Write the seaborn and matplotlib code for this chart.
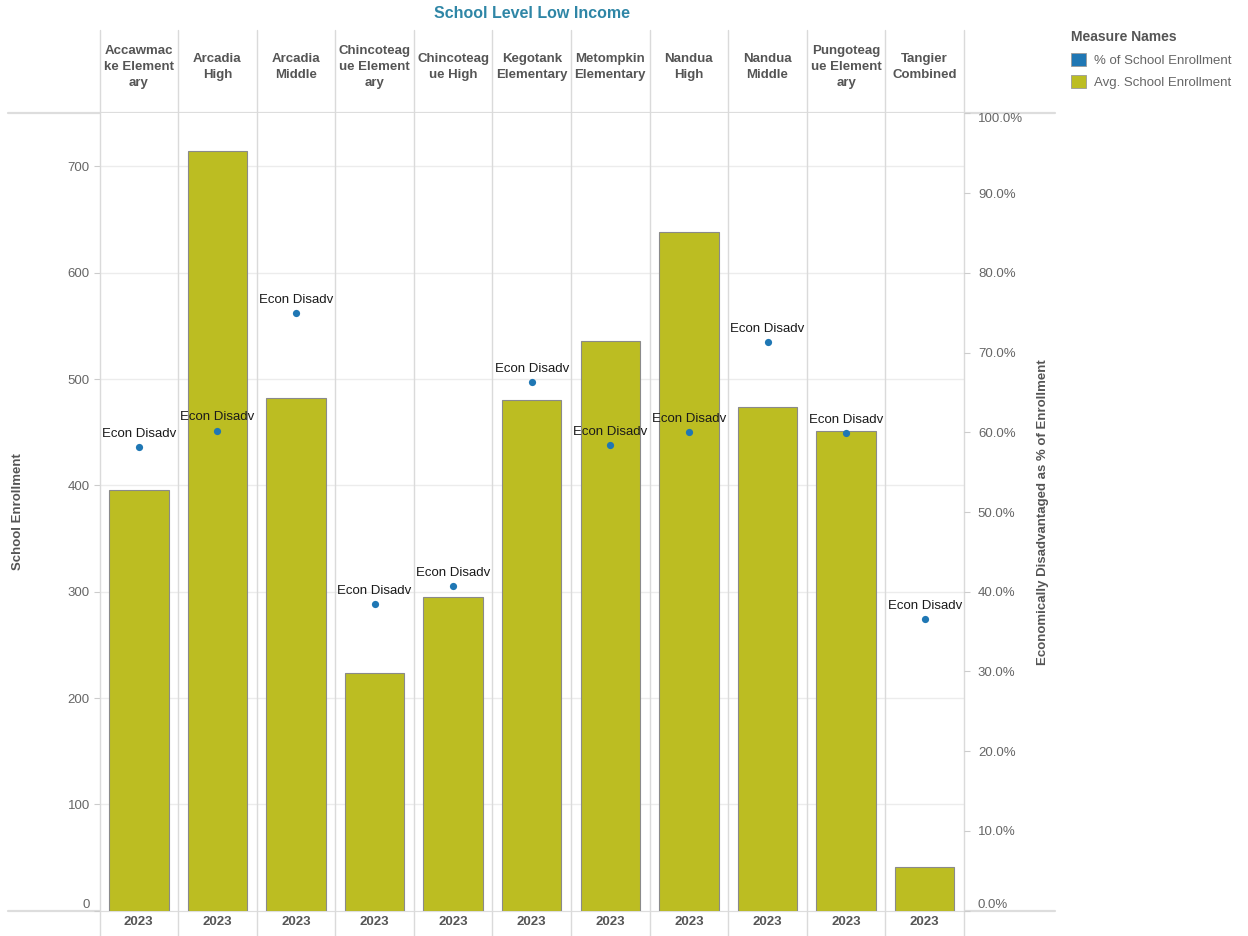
import numpy as np
import pandas as pd
import matplotlib
matplotlib.use("Agg")
import matplotlib.pyplot as plt
from matplotlib.lines import Line2D
from matplotlib.patches import Patch
from matplotlib.ticker import FuncFormatter
import seaborn as sns

# ---------------- data ----------------
schools = ["Accawmack Elementary", "Arcadia High", "Arcadia Middle",
           "Chincoteague Elementary", "Chincoteague High", "Kegotank Elementary",
           "Metompkin Elementary", "Nandua High", "Nandua Middle",
           "Pungoteague Elementary", "Tangier Combined"]
header_labels = ["Accawmac\nke Element\nary", "Arcadia\nHigh", "Arcadia\nMiddle",
                 "Chincoteag\nue Element\nary", "Chincoteag\nue High",
                 "Kegotank\nElementary", "Metompkin\nElementary", "Nandua\nHigh",
                 "Nandua\nMiddle", "Pungoteag\nue Element\nary", "Tangier\nCombined"]
year_labels = ["2023"] * 11
avg_enrollment = [396, 715, 482, 224, 295, 480, 536, 638, 474, 451, 41]
pct_enrollment = [0.581, 0.602, 0.749, 0.384, 0.407, 0.663, 0.584, 0.600, 0.713, 0.599, 0.366]
point_label = "Econ Disadv"
left_ticks = [0, 100, 200, 300, 400, 500, 600, 700]
right_ticks = [0.0, 0.1, 0.2, 0.3, 0.4, 0.5, 0.6, 0.7, 0.8, 0.9, 1.0]
legend_names = ["% of School Enrollment", "Avg. School Enrollment"]

# ---------------- style ----------------
sns.set_theme(style="white")
plt.rcParams['font.family'] = ['Liberation Sans', 'DejaVu Sans']

OLIVE = "#bcbd22"
BLUE = "#1f77b4"
GRID = "#ececec"
DIV = "#dadada"
TICKC = "#666666"
HEADC = "#555555"

W, H = 1248, 936
fig = plt.figure(figsize=(W / 100, H / 100), dpi=100)
x0, x1 = 99.5, 964.0
y_top, y_bot = 113.3, 910.7
ax = fig.add_axes([x0 / W, 1 - y_bot / H, (x1 - x0) / W, (y_bot - y_top) / H])

df = pd.DataFrame({"school": schools, "enroll": avg_enrollment, "pct": pct_enrollment})

sns.barplot(data=df, x="school", y="enroll", ax=ax, color=OLIVE, saturation=1,
            width=0.756, edgecolor="#8a8a8a", linewidth=0.8, zorder=2)

ax2 = ax.twinx()
sns.stripplot(data=df, x="school", y="pct", ax=ax2, jitter=False, color=BLUE,
              size=5.2, linewidth=0, zorder=5)

for i, (s, p) in enumerate(zip(schools, pct_enrollment)):
    ax2.annotate(point_label, (i, p), xytext=(0, 9.5), textcoords="offset points",
                 ha="center", va="center", fontsize=9.5, color="#1a1a1a", zorder=6)

# axes limits
ax.set_xlim(-0.5, len(schools) - 0.5)
ax.set_ylim(0, 750)
ax2.set_ylim(0, 1.0)

# x ticks -> year labels
ax.set_xticks(range(len(schools)))
ax.set_xticklabels(year_labels, fontsize=9.5, fontweight="bold", color=HEADC)
ax.tick_params(axis="x", length=0, pad=4)
ax.set_xlabel("")

# left y
ax.set_yticks(left_ticks)
ax.set_yticklabels([str(t) for t in left_ticks], fontsize=9.5, color=TICKC)
ax.tick_params(axis="y", left=True, length=4, width=0.8, color="#cccccc", pad=3)
ax.set_ylabel("School Enrollment", fontsize=9.5, fontweight="bold", color=HEADC)
ax.yaxis.set_label_coords(-0.0872, 0.5)
ax.yaxis.grid(True, color=GRID, linewidth=1)
ax.xaxis.grid(False)
ax.set_axisbelow(True)
labs = ax.get_yticklabels()
labs[0].set_va("bottom")

# right y
ax2.set_yticks(right_ticks)
ax2.yaxis.set_major_formatter(FuncFormatter(lambda v, _: f"{v*100:.1f}%"))
ax2.tick_params(axis="y", right=True, length=4, width=0.8, color="#cccccc", pad=6,
                labelsize=9.5, labelcolor=TICKC)
ax2.set_ylabel("Economically Disadvantaged as % of Enrollment", fontsize=9.5,
               fontweight="bold", color=HEADC)
ax2.yaxis.set_label_coords(1.0844, 0.5)
ax2.grid(False)
fig.canvas.draw()
rl = ax2.get_yticklabels()
rl[0].set_va("bottom")
rl[-1].set_va("top")

for a in (ax, ax2):
    for sp in a.spines.values():
        sp.set_visible(False)

# panel dividers
ytop_ax = (y_bot - 30) / (y_bot - y_top)
ybot_ax = (y_bot - H) / (y_bot - y_top)
for i in range(len(schools) + 1):
    ax.plot([i - 0.5, i - 0.5], [ybot_ax, ytop_ax], transform=ax.get_xaxis_transform(),
            clip_on=False, color=DIV, linewidth=1, zorder=1)

# top/bottom border lines
for yy in (y_top, y_bot):
    fig.add_artist(Line2D([8 / W, 1055 / W], [1 - yy / H, 1 - yy / H], color="#dddddd",
                          linewidth=1.6, zorder=0))

# header labels
yh = (y_bot - 67) / (y_bot - y_top)
for i, lab in enumerate(header_labels):
    ax.text(i, yh, lab, transform=ax.get_xaxis_transform(), ha="center", va="center",
            fontsize=9.5, fontweight="bold", color=HEADC, linespacing=1.4, clip_on=False)

# title
fig.text((x0 + x1) / 2 / W, 1 - 14 / H, "School Level Low Income", ha="center", va="center",
         fontsize=11.5, fontweight="bold", color="#2f86a6")

# legend
handles = [Patch(facecolor=BLUE, edgecolor="#9a9a9a", linewidth=0.6),
           Patch(facecolor=OLIVE, edgecolor="#9a9a9a", linewidth=0.6)]
leg = fig.legend(handles, legend_names, loc="upper left",
                 bbox_to_anchor=(1071 / W, 1 - 30 / H), frameon=False,
                 title="Measure Names", fontsize=9.5, alignment="left",
                 title_fontproperties={"weight": "bold", "size": 10},
                 handlelength=1.15, handleheight=1.15, handletextpad=0.6,
                 labelspacing=0.65, borderpad=0, borderaxespad=0)
for t in leg.get_texts():
    t.set_color(TICKC)
leg.get_title().set_color(HEADC)

fig.savefig("out.png", dpi=100)
